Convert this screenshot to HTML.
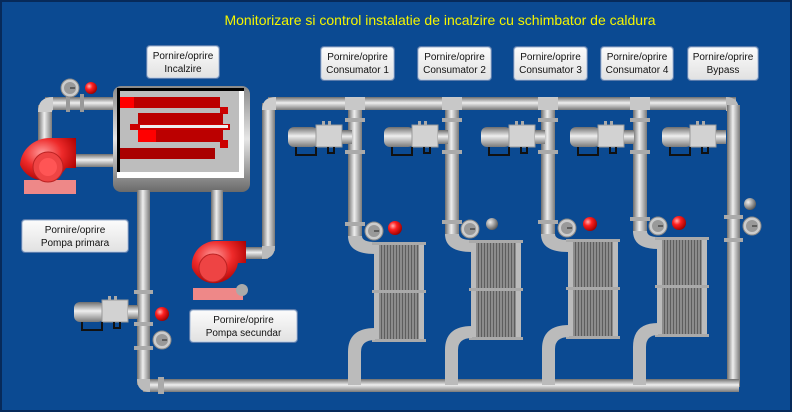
<!DOCTYPE html>
<html><head><meta charset="utf-8"><style>
html,body{margin:0;padding:0;}
body{width:792px;height:412px;overflow:hidden;background:#0b4a92;font-family:"Liberation Sans",sans-serif;}
.b{position:absolute;background:linear-gradient(#fbfbfb,#e2e2e2);border:1px solid #c8d4e4;box-shadow:0 0 0 1px #5a7bab;border-radius:3px;font-size:10px;color:#111;text-align:center;line-height:13px;box-sizing:border-box;padding-top:3px;}
</style></head><body>
<svg width="792" height="412" style="position:absolute;left:0;top:0">
<defs>
<linearGradient id="pv" x1="0" x2="1" y1="0" y2="0"><stop offset="0" stop-color="#6e6e6e"/><stop offset=".45" stop-color="#eeeeee"/><stop offset="1" stop-color="#7a7a7a"/></linearGradient>
<linearGradient id="ph" x1="0" x2="0" y1="0" y2="1"><stop offset="0" stop-color="#6e6e6e"/><stop offset=".45" stop-color="#eeeeee"/><stop offset="1" stop-color="#7a7a7a"/></linearGradient>
<linearGradient id="tank" x1="0" x2="0" y1="0" y2="1"><stop offset="0" stop-color="#8a8a8a"/><stop offset=".5" stop-color="#e6e6e6"/><stop offset="1" stop-color="#6a6a6a"/></linearGradient>
<radialGradient id="red" cx=".35" cy=".35" r=".7"><stop offset="0" stop-color="#ffb0b0"/><stop offset=".4" stop-color="#ff2020"/><stop offset="1" stop-color="#900"/></radialGradient>
<radialGradient id="gray" cx=".35" cy=".35" r=".7"><stop offset="0" stop-color="#eee"/><stop offset="1" stop-color="#555"/></radialGradient>
<radialGradient id="pump" cx=".4" cy=".35" r=".7"><stop offset="0" stop-color="#ff9a9a"/><stop offset=".5" stop-color="#ee2a2a"/><stop offset="1" stop-color="#a00"/></radialGradient>
<pattern id="rad" width="3" height="4" patternUnits="userSpaceOnUse"><rect width="3" height="4" fill="#8c8c8c"/><rect width="1" height="4" fill="#5e5e5e"/></pattern>
<g id="motor">
<rect x="0" y="0" width="30" height="20" rx="6" fill="url(#ph)"/>
<rect x="28" y="-2" width="26" height="22" fill="#d2d2d2" stroke="#999"/>
<rect x="54" y="3" width="10" height="14" fill="url(#ph)"/>
<path d="M8 20 v8 h20 v-8 M40 20 v6 h6 v-6" fill="none" stroke="#111" stroke-width="2"/>
<rect x="34" y="-6" width="3" height="4" fill="#aaa"/><rect x="40" y="-6" width="3" height="4" fill="#aaa"/>
</g>
<g id="gauge"><circle r="9" fill="#ccc" stroke="#888"/><circle r="6" fill="#999"/><line x1="0" y1="0" x2="5" y2="0" stroke="#222"/></g>
<g id="radg"><rect x="0" y="0" width="48" height="98" fill="url(#rad)"/><rect x="-1" y="0" width="5" height="98" fill="#bbb"/><rect x="44" y="0" width="5" height="98" fill="#bbb"/><rect x="-3" y="47" width="54" height="3" fill="#aaa"/><rect x="-3" y="-1" width="54" height="3" fill="#aaa"/><rect x="-3" y="96" width="54" height="3" fill="#aaa"/></g>
</defs>
<rect x="1" y="1" width="790" height="410" fill="none" stroke="#072a5a" stroke-width="2"/>
<text x="440" y="25" text-anchor="middle" fill="#f5f500" font-size="14" font-family="Liberation Sans, sans-serif">Monitorizare si control instalatie de incalzire cu schimbator de caldura</text>

<!-- primary loop left -->
<rect x="38" y="105" width="14" height="40" fill="url(#pv)"/>
<rect x="45" y="97" width="70" height="13" fill="url(#ph)"/>
<path d="M38 112 q0 -15 15 -15 v13 q-1 0 -1 2z" fill="#ccc"/>
<rect x="66" y="94" width="4" height="18" fill="#999"/><rect x="80" y="94" width="4" height="18" fill="#999"/>
<rect x="68" y="88" width="3" height="9" fill="#999"/>
<use href="#gauge" x="70" y="88"/>
<circle cx="91" cy="88" r="6" fill="url(#red)"/>
<rect x="70" y="154" width="45" height="13" fill="url(#ph)"/>
<!-- primary pump -->
<rect x="24" y="180" width="52" height="14" fill="#e88"/>
<path d="M20 165 a30 28 0 0 1 30 -27 h26 v30 h-10 a26 26 0 0 1 -46 -3z" fill="url(#pump)"/>
<circle cx="48" cy="167" r="15" fill="#e44" stroke="#b22"/>
<circle cx="48" cy="167" r="9" fill="#f55"/>

<!-- tank -->
<rect x="113" y="86" width="137" height="106" rx="8" fill="url(#tank)"/>
<rect x="117" y="88" width="127" height="90" fill="#fff"/>
<rect x="117" y="88" width="122" height="84" fill="#bdbdbd"/>
<rect x="117" y="88" width="3" height="84" fill="#000"/><rect x="117" y="88" width="127" height="3" fill="#000"/>
<rect x="120" y="97" width="100" height="11" fill="#b00"/><rect x="120" y="97" width="14" height="11" fill="#f00"/>
<rect x="220" y="107" width="8" height="7" fill="#c00"/>
<rect x="138" y="113" width="85" height="11" fill="#b00"/>
<rect x="130" y="124" width="100" height="6" fill="#c00"/><rect x="140" y="125" width="88" height="3" fill="#eee"/>
<rect x="138" y="130" width="85" height="12" fill="#b00"/><rect x="138" y="130" width="18" height="12" fill="#f00"/>
<rect x="220" y="140" width="8" height="8" fill="#c00"/>
<rect x="120" y="148" width="95" height="11" fill="#a00"/>

<!-- left vertical from tank -->
<rect x="137" y="190" width="13" height="195" fill="url(#pv)"/>
<rect x="134" y="290" width="19" height="4" fill="#aaa"/><rect x="134" y="322" width="19" height="4" fill="#aaa"/><rect x="134" y="346" width="19" height="4" fill="#aaa"/>
<use href="#motor" x="74" y="302"/>
<use href="#gauge" x="162" y="340"/>
<circle cx="162" cy="314" r="7" fill="url(#red)"/>
<!-- secondary pump -->
<rect x="211" y="190" width="12" height="50" fill="url(#pv)"/>
<rect x="240" y="247" width="28" height="12" fill="url(#ph)"/>
<rect x="262" y="103" width="13" height="148" fill="url(#pv)"/>
<path d="M262 246 h13 q0 13 -13 13z" fill="#bbb"/>
<rect x="193" y="288" width="50" height="12" fill="#e88"/>
<path d="M192 268 a24 24 0 0 1 24 -27 h30 v22 h-8 a24 24 0 0 1 -46 5z" fill="url(#pump)"/>
<circle cx="213" cy="268" r="14" fill="#e44" stroke="#b22"/>
<circle cx="242" cy="290" r="6" fill="#aaa"/>

<!-- top header -->
<rect x="268" y="97" width="468" height="13" fill="url(#ph)"/>
<path d="M262 110 q0 -13 14 -13 v13z" fill="#ccc"/>
<path d="M726 97 q13 0 13 14 h-13z" fill="#bbb"/>
<!-- right bypass vertical -->
<rect x="727" y="105" width="13" height="282" fill="url(#pv)"/>
<rect x="724" y="215" width="19" height="4" fill="#aaa"/><rect x="724" y="238" width="19" height="4" fill="#aaa"/>
<use href="#gauge" x="752" y="226"/>
<circle cx="750" cy="204" r="6" fill="url(#gray)"/>

<!-- bottom return -->
<rect x="143" y="379" width="596" height="13" fill="url(#ph)"/>
<path d="M137 379 h13 v13 q-13 0 -13 -13z" fill="#bbb"/>
<rect x="158" y="377" width="6" height="17" fill="#aaa"/>

<!-- consumer branches -->
<g>
<rect x="348" y="103" width="14" height="135" fill="url(#pv)"/><rect x="345" y="97" width="20" height="13" fill="#c8c8c8"/><rect x="345" y="118" width="20" height="4" fill="#aaa"/><rect x="345" y="150" width="20" height="4" fill="#aaa"/><rect x="345" y="222" width="20" height="4" fill="#aaa"/>
<path d="M348 236 h14 q0 6 13 6 v12 q-27 0 -27 -18z" fill="#bbb"/>
<use href="#gauge" x="374" y="231"/><circle cx="395" cy="228" r="7" fill="url(#red)"/>
<use href="#radg" x="375" y="243"/>
<path d="M375 328 v12 q-14 0 -14 12 v33 h-13 v-33 q0 -24 27 -24z" fill="#bbb"/>
<use href="#motor" x="288" y="127"/>
</g>
<g>
<rect x="445" y="103" width="14" height="133" fill="url(#pv)"/><rect x="442" y="97" width="20" height="13" fill="#c8c8c8"/><rect x="442" y="118" width="20" height="4" fill="#aaa"/><rect x="442" y="150" width="20" height="4" fill="#aaa"/><rect x="442" y="220" width="20" height="4" fill="#aaa"/>
<path d="M445 234 h14 q0 6 13 6 v12 q-27 0 -27 -18z" fill="#bbb"/>
<use href="#gauge" x="470" y="229"/><circle cx="492" cy="224" r="6" fill="url(#gray)"/>
<use href="#radg" x="472" y="241"/>
<path d="M472 326 v12 q-14 0 -14 12 v35 h-13 v-35 q0 -24 27 -24z" fill="#bbb"/>
<use href="#motor" x="384" y="127"/>
</g>
<g>
<rect x="541" y="103" width="14" height="133" fill="url(#pv)"/><rect x="538" y="97" width="20" height="13" fill="#c8c8c8"/><rect x="538" y="118" width="20" height="4" fill="#aaa"/><rect x="538" y="150" width="20" height="4" fill="#aaa"/><rect x="538" y="220" width="20" height="4" fill="#aaa"/>
<path d="M541 234 h14 q0 6 13 6 v12 q-27 0 -27 -18z" fill="#bbb"/>
<use href="#gauge" x="567" y="228"/><circle cx="590" cy="224" r="7" fill="url(#red)"/>
<use href="#radg" x="569" y="240"/>
<path d="M569 325 v12 q-14 0 -14 12 v36 h-13 v-36 q0 -24 27 -24z" fill="#bbb"/>
<use href="#motor" x="481" y="127"/>
</g>
<g>
<rect x="633" y="103" width="14" height="130" fill="url(#pv)"/><rect x="630" y="97" width="20" height="13" fill="#c8c8c8"/><rect x="630" y="118" width="20" height="4" fill="#aaa"/><rect x="630" y="150" width="20" height="4" fill="#aaa"/><rect x="630" y="217" width="20" height="4" fill="#aaa"/>
<path d="M633 231 h14 q0 6 11 6 v12 q-25 0 -25 -18z" fill="#bbb"/>
<use href="#gauge" x="658" y="226"/><circle cx="679" cy="223" r="7" fill="url(#red)"/>
<use href="#radg" x="658" y="238"/>
<path d="M658 323 v12 q-12 0 -12 12 v38 h-13 v-38 q0 -24 25 -24z" fill="#bbb"/>
<use href="#motor" x="570" y="127"/>
</g>
<use href="#motor" x="662" y="127"/>
</svg>
<div class="b" style="left:147px;top:46px;width:72px;height:32px">Pornire/oprire<br>Incalzire</div>
<div class="b" style="left:321px;top:47px;width:73px;height:33px">Pornire/oprire<br>Consumator 1</div>
<div class="b" style="left:418px;top:47px;width:73px;height:33px">Pornire/oprire<br>Consumator 2</div>
<div class="b" style="left:514px;top:47px;width:73px;height:33px">Pornire/oprire<br>Consumator 3</div>
<div class="b" style="left:601px;top:47px;width:72px;height:33px">Pornire/oprire<br>Consumator 4</div>
<div class="b" style="left:688px;top:47px;width:70px;height:33px">Pornire/oprire<br>Bypass</div>
<div class="b" style="left:22px;top:220px;width:106px;height:32px">Pornire/oprire<br>Pompa primara</div>
<div class="b" style="left:190px;top:310px;width:107px;height:32px">Pornire/oprire<br>Pompa secundar</div>
</body></html>
